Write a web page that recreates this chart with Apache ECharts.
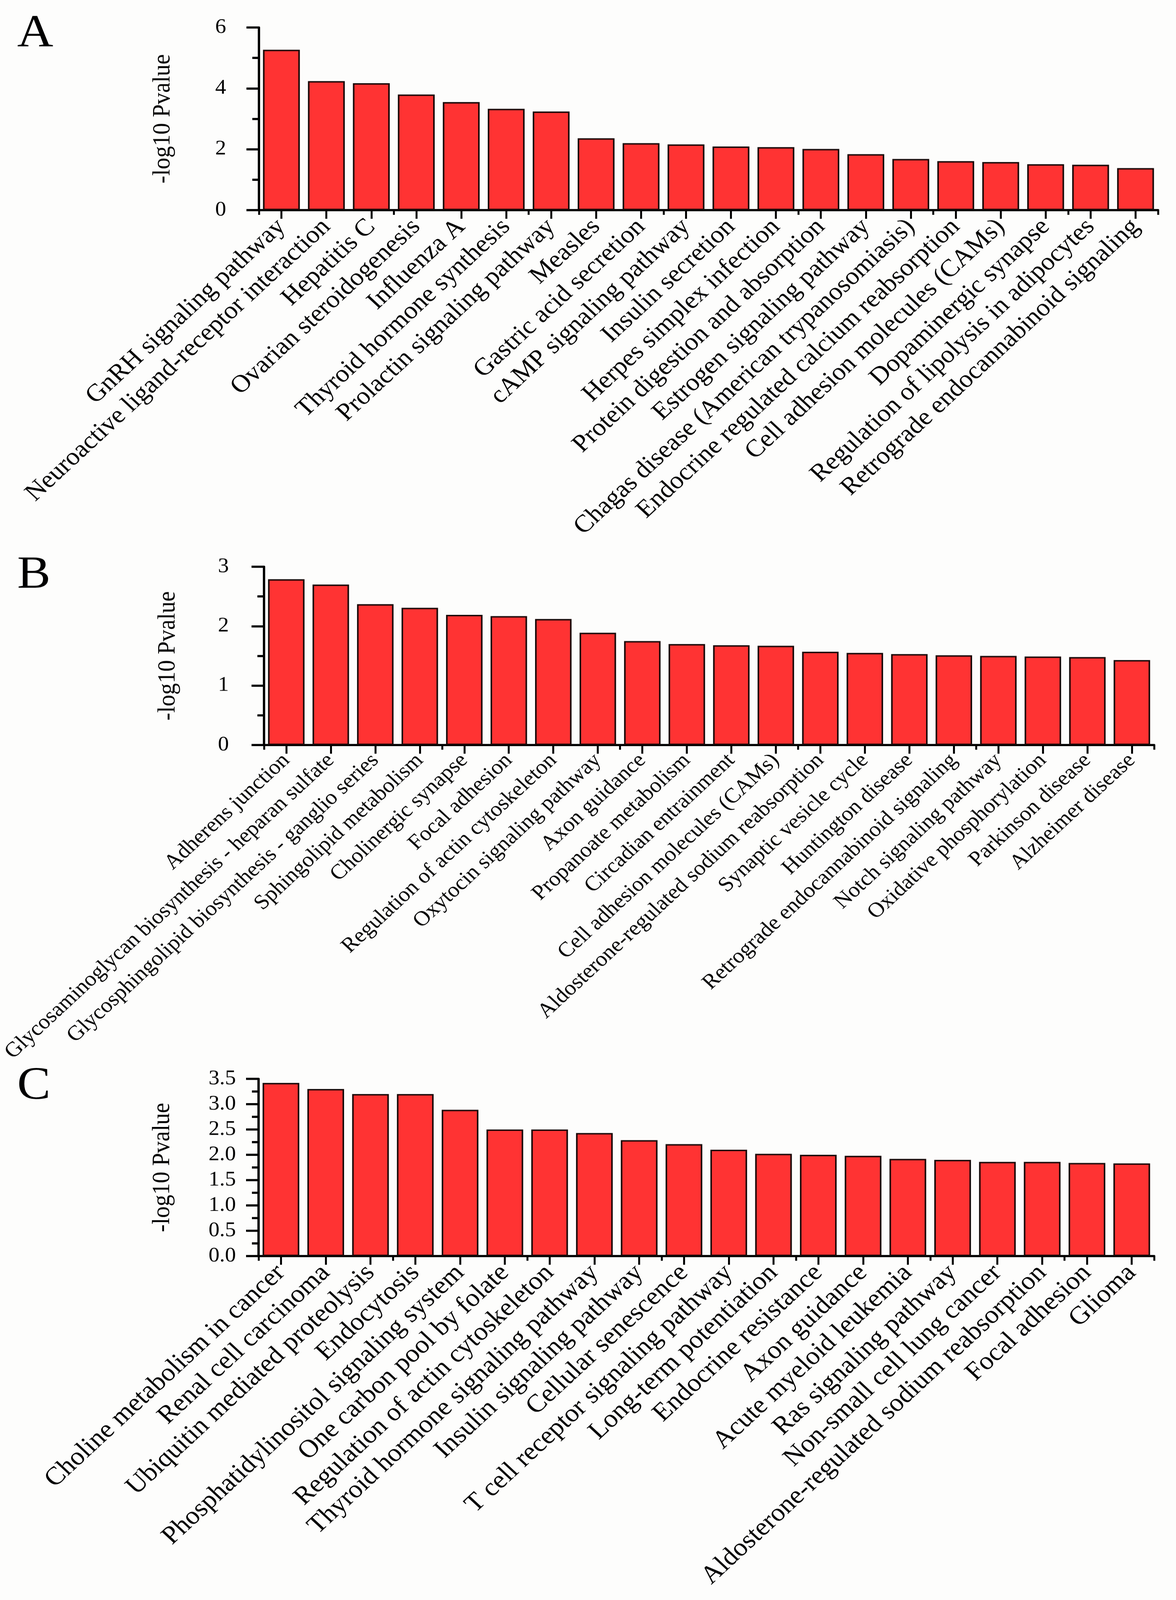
<!DOCTYPE html>
<html><head><meta charset="utf-8">
<script src="https://cdn.jsdelivr.net/npm/echarts@6/dist/echarts.min.js"></script>
<style>html,body{margin:0;padding:0;background:#fdfdfc;overflow:hidden}#c{width:3011px;height:4424px;transform-origin:0 0}</style>
</head><body><div id="c"></div>
<script>
const categoriesA = ["GnRH signaling pathway","Neuroactive ligand-receptor interaction","Hepatitis C","Ovarian steroidogenesis","Influenza A","Thyroid hormone synthesis","Prolactin signaling pathway","Measles","Gastric acid secretion","cAMP signaling pathway","Insulin secretion","Herpes simplex infection","Protein digestion and absorption","Estrogen signaling pathway","Chagas disease (American trypanosomiasis)","Endocrine regulated calcium reabsorption","Cell adhesion molecules (CAMs)","Dopaminergic synapse","Regulation of lipolysis in adipocytes","Retrograde endocannabinoid signaling"];
const valuesA = [5.27, 4.24, 4.17, 3.80, 3.55, 3.33, 3.24, 2.36, 2.20, 2.16, 2.09, 2.07, 2.01, 1.84, 1.68, 1.61, 1.58, 1.51, 1.49, 1.38];

const categoriesB = ["Adherens junction","Glycosaminoglycan biosynthesis - heparan sulfate","Glycosphingolipid biosynthesis - ganglio series","Sphingolipid metabolism","Cholinergic synapse","Focal adhesion","Regulation of actin cytoskeleton","Oxytocin signaling pathway","Axon guidance","Propanoate metabolism","Circadian entrainment","Cell adhesion molecules (CAMs)","Aldosterone-regulated sodium reabsorption","Synaptic vesicle cycle","Huntington disease","Retrograde endocannabinoid signaling","Notch signaling pathway","Oxidative phosphorylation","Parkinson disease","Alzheimer disease"];
const valuesB = [2.79, 2.70, 2.37, 2.31, 2.19, 2.17, 2.12, 1.89, 1.75, 1.70, 1.68, 1.67, 1.57, 1.55, 1.53, 1.51, 1.50, 1.49, 1.48, 1.43];

const categoriesC = ["Choline metabolism in cancer","Renal cell carcinoma","Ubiquitin mediated proteolysis","Endocytosis","Phosphatidylinositol signaling system","One carbon pool by folate","Regulation of actin cytoskeleton","Thyroid hormone signaling pathway","Insulin signaling pathway","Cellular senescence","T cell receptor signaling pathway","Long-term potentiation","Endocrine resistance","Axon guidance","Acute myeloid leukemia","Ras signaling pathway","Non-small cell lung cancer","Aldosterone-regulated sodium reabsorption","Focal adhesion","Glioma"];
const valuesC = [3.42, 3.30, 3.20, 3.20, 2.89, 2.50, 2.50, 2.43, 2.29, 2.21, 2.10, 2.02, 2.00, 1.98, 1.92, 1.90, 1.86, 1.86, 1.84, 1.83];

const panelLetters = ["A", "B", "C"];
const yAxisTitle = "-log10 Pvalue";
const yScaleA = { min: 0, max: 6, interval: 2 };
const yScaleB = { min: 0, max: 3, interval: 1 };
const yScaleC = { min: 0, max: 3.5, interval: 0.5 };

// The figure is laid out at 3011x4424; if the visible window is shorter,
// squeeze the whole figure vertically so that all of it stays in view.
const box = document.getElementById('c');
const vh = window.innerHeight || 4424;
if (vh < 4424) box.style.transform = 'scale(1,' + (vh / 4424) + ')';

const FONT = "'Liberation Serif', 'Times New Roman', serif";
const panels = [
  { cats: categoriesA, vals: valuesA, y: yScaleA, grid: { left: 663, top: 76, width: 2302, height: 505 }, labelSize: 68, labelMargin: 36, yLabelMargin: 84, decimals: 0, letterTop: 30 },
  { cats: categoriesB, vals: valuesB, y: yScaleB, grid: { left: 664, top: 1567, width: 2291, height: 493 }, labelSize: 58, labelMargin: 34, yLabelMargin: 90, decimals: 0, letterTop: 1527 },
  { cats: categoriesC, vals: valuesC, y: yScaleC, grid: { left: 662, top: 2983, width: 2293, height: 490 }, labelSize: 70, labelMargin: 36, yLabelMargin: 58, decimals: 1, letterTop: 2940 }
];

const grids = [], xAxes = [], yAxes = [], series = [], titles = [];
panels.forEach((p, i) => {
  grids.push(Object.assign({}, p.grid));
  // main category axis: labels + long ticks at bar centres
  xAxes.push({
    type: 'category', gridIndex: i, data: p.cats, position: 'bottom',
    axisLine: { show: true, lineStyle: { color: '#000', width: 6 } },
    axisTick: { show: true, alignWithLabel: true, length: 24, lineStyle: { color: '#000', width: 5 } },
    axisLabel: { interval: 0, rotate: 45, margin: p.labelMargin, color: '#000', fontFamily: FONT, fontSize: p.labelSize },
    splitLine: { show: false }
  });
  // overlay axis: short ticks at category boundaries
  xAxes.push({
    type: 'category', gridIndex: i, data: p.cats, position: 'bottom',
    axisLine: { show: false },
    axisTick: { show: true, alignWithLabel: false, length: 13, lineStyle: { color: '#000', width: 5 } },
    axisLabel: { show: false },
    splitLine: { show: false }
  });
  yAxes.push({
    type: 'value', gridIndex: i, min: p.y.min, max: p.y.max, interval: p.y.interval,
    name: yAxisTitle, nameLocation: 'middle', nameGap: 214, nameRotate: 90,
    nameTextStyle: { fontFamily: FONT, fontSize: 64, color: '#000' },
    axisLine: { show: true, lineStyle: { color: '#000', width: 6 } },
    axisTick: { show: true, length: 32, lineStyle: { color: '#000', width: 6 } },
    minorTick: { show: true, splitNumber: 2, length: 17, lineStyle: { color: '#000', width: 6 } },
    splitLine: { show: false }, minorSplitLine: { show: false },
    axisLabel: { margin: p.yLabelMargin, color: '#000', fontFamily: FONT, fontSize: 56,
      formatter: (v) => v.toFixed(p.decimals) }
  });
  series.push({
    type: 'bar', xAxisIndex: 2 * i, yAxisIndex: i, data: p.vals,
    barCategoryGap: '18%',
    itemStyle: { color: '#FF3333', borderColor: '#1a0808', borderWidth: 4 },
    emphasis: { disabled: true }
  });
  titles.push({ text: panelLetters[i], left: 44, top: p.letterTop, padding: 0,
    textStyle: { fontFamily: FONT, fontSize: 128, fontWeight: 'normal', color: '#000' } });
});

const chart = echarts.init(box, null, { renderer: 'canvas', width: 3011, height: 4424 });
chart.setOption({
  backgroundColor: '#fdfdfc',
  animation: false,
  title: titles,
  grid: grids,
  xAxis: xAxes,
  yAxis: yAxes,
  series: series
});
</script>
</body></html>
